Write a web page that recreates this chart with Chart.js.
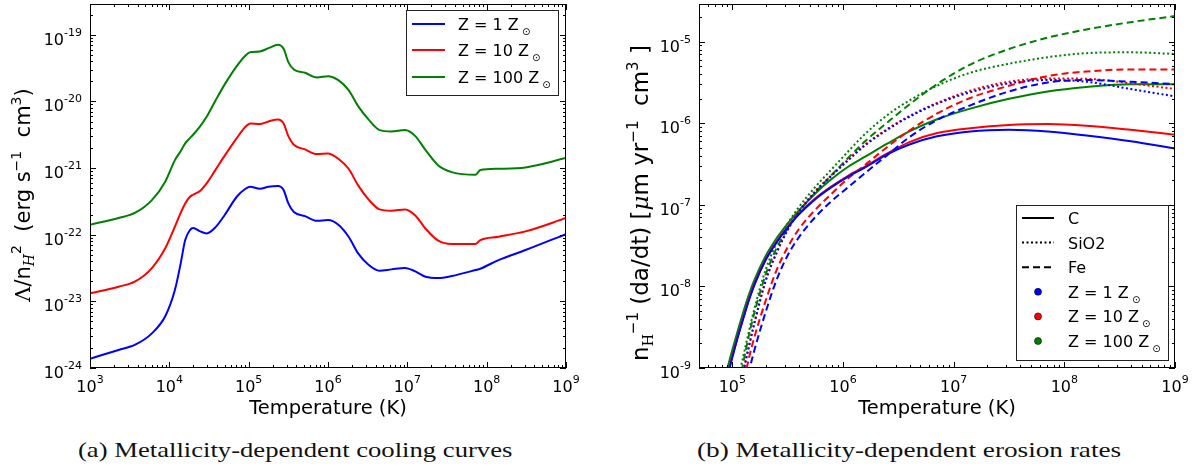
<!DOCTYPE html>
<html>
<head>
<meta charset="utf-8">
<script src="https://cdn.jsdelivr.net/npm/chart.js@4.4.1/dist/chart.umd.min.js"></script>
<style>
  html, body { margin: 0; padding: 0; background: #fff; }
  #wrap { position: relative; width: 1197px; height: 472px; overflow: hidden; }
  canvas { position: absolute; top: 0; }
  #cA { left: 0; }
  #cB { left: 600px; }
  .cap { position: absolute; top: 438px; font-family: "Liberation Serif", serif; font-size: 21px;
         white-space: nowrap; transform-origin: 0 0; color: #111; }
</style>
</head>
<body>
<div id="wrap">
  <canvas id="cA" width="600" height="420"></canvas>
  <canvas id="cB" width="597" height="420"></canvas>
  <div class="cap" id="capA" style="left:78px">(a) Metallicity-dependent cooling curves</div>
  <div class="cap" id="capB" style="left:697px">(b) Metallicity-dependent erosion rates</div>
</div>
<script>
// all values are log10

// (a) cooling curves
const coolLogT = [3.00, 3.36, 3.57, 3.78, 3.95, 4.07, 4.14, 4.20, 4.26, 4.30,
                  4.39, 4.47, 4.58, 4.70, 4.85, 4.96, 5.02, 5.14, 5.25, 5.37,
                  5.44, 5.50, 5.57, 5.71, 5.86, 6.00, 6.13, 6.26, 6.38, 6.51,
                  6.65, 6.80, 6.97, 7.10, 7.23, 7.39, 7.56, 7.86, 7.92, 8.15,
                  8.49, 9.00];
const coolZ1 = [-23.86, -23.73, -23.65, -23.48, -23.22, -22.83, -22.45, -22.08, -21.93, -21.90,
                -21.95, -21.98, -21.89, -21.70, -21.43, -21.31, -21.28, -21.31, -21.28, -21.27,
                -21.33, -21.53, -21.66, -21.72, -21.79, -21.78, -21.85, -22.03, -22.28, -22.45,
                -22.54, -22.52, -22.50, -22.55, -22.63, -22.65, -22.62, -22.53, -22.51, -22.38,
                -22.23, -21.99];
const coolZ10 = [-22.88, -22.78, -22.70, -22.50, -22.20, -21.88, -21.68, -21.53, -21.43, -21.40,
                 -21.34, -21.23, -21.03, -20.81, -20.55, -20.38, -20.33, -20.34, -20.30, -20.27,
                 -20.33, -20.52, -20.65, -20.72, -20.79, -20.78, -20.86, -21.01, -21.26, -21.47,
                 -21.62, -21.64, -21.62, -21.71, -21.91, -22.09, -22.14, -22.14, -22.08, -22.03,
                 -21.95, -21.75];
const coolZ100 = [-21.85, -21.75, -21.67, -21.48, -21.20, -20.88, -20.75, -20.63, -20.55, -20.50,
                  -20.37, -20.23, -19.99, -19.74, -19.47, -19.31, -19.26, -19.25, -19.20, -19.15,
                  -19.21, -19.41, -19.52, -19.57, -19.64, -19.62, -19.68, -19.83, -20.07, -20.27,
                  -20.43, -20.45, -20.43, -20.52, -20.73, -20.96, -21.06, -21.10, -21.03, -21.01,
                  -20.99, -20.85];

// (b) erosion rates
const eroLogT = [4.88, 4.95, 5.0, 5.05, 5.1, 5.15, 5.2, 5.3, 5.4, 5.5, 5.6, 5.75,
                 5.9, 6.05, 6.2, 6.4, 6.6, 6.85, 7.15, 7.5, 7.85, 8.2, 8.6, 9.0];
const cZ1 = [-9.51, -9.13, -8.87, -8.62, -8.39, -8.17, -7.98, -7.68, -7.46, -7.28, -7.12, -6.93,
             -6.78, -6.65, -6.54, -6.38, -6.26, -6.16, -6.10, -6.08, -6.10, -6.15, -6.22, -6.31];
const cZ10 = [-9.50, -9.12, -8.86, -8.61, -8.38, -8.16, -7.97, -7.67, -7.45, -7.27, -7.11, -6.92,
              -6.77, -6.64, -6.53, -6.37, -6.23, -6.12, -6.06, -6.02, -6.01, -6.03, -6.08, -6.14];
const cZ100 = [-9.40, -9.03, -8.78, -8.54, -8.31, -8.10, -7.92, -7.63, -7.41, -7.23, -7.07, -6.86,
               -6.68, -6.53, -6.41, -6.25, -6.10, -5.95, -5.82, -5.70, -5.61, -5.555, -5.52, -5.52];
const sioZ1 = [-10.5, -10.1, -9.76, -9.41, -9.05, -8.74, -8.45, -7.94, -7.59, -7.31, -7.09, -6.84,
               -6.64, -6.45, -6.27, -6.08, -5.92, -5.76, -5.62, -5.51, -5.47, -5.49, -5.58, -5.67];
const sioZ10 = [-10.5, -10.1, -9.75, -9.40, -9.04, -8.73, -8.44, -7.93, -7.58, -7.30, -7.08, -6.83,
                -6.63, -6.44, -6.26, -6.07, -5.91, -5.75, -5.60, -5.49, -5.45, -5.455, -5.51, -5.58];
const sioZ100 = [-10.2, -9.78, -9.47, -9.16, -8.85, -8.55, -8.27, -7.80, -7.47, -7.23, -7.03, -6.78,
                 -6.56, -6.34, -6.13, -5.90, -5.72, -5.54, -5.38, -5.27, -5.19, -5.14, -5.13, -5.15];
const feZ1 = [-11.2, -10.8, -10.4, -9.85, -9.42, -9.05, -8.78, -8.32, -7.92, -7.62, -7.40, -7.15,
              -6.95, -6.78, -6.61, -6.39, -6.17, -5.96, -5.78, -5.61, -5.50, -5.47, -5.49, -5.52];
const feZ10 = [-11.0, -10.5, -10.1, -9.6, -9.2, -8.88, -8.62, -8.18, -7.80, -7.52, -7.30, -7.06,
               -6.86, -6.67, -6.51, -6.29, -6.09, -5.88, -5.69, -5.54, -5.42, -5.365, -5.34, -5.34];
const feZ100 = [-10.5, -10.0, -9.65, -9.28, -8.93, -8.60, -8.32, -7.86, -7.53, -7.29, -7.09, -6.85,
                -6.63, -6.42, -6.22, -5.99, -5.77, -5.52, -5.28, -5.09, -4.95, -4.85, -4.76, -4.685];

const zLabels = ['1', '10', '100'];
const zColors = ['#0000ff', '#ff0000', '#008000'];
const grainNames = ['C', 'SiO2', 'Fe'];
const grainDash = [[], [2, 2.5], [7, 4]];

const SANS = '"DejaVu Sans", sans-serif';
const SERIF = '"DejaVu Serif", serif';

function pts(logT, logY) {
  return logT.map((t, i) => ({ x: Math.pow(10, t), y: Math.pow(10, logY[i]) }));
}

function setFont(ctx, p) {
  ctx.font = (p.style ? p.style + ' ' : '') + p.size + 'px ' + (p.family || SANS);
}
function richWidth(ctx, parts) {
  let w = 0;
  parts.forEach(p => { setFont(ctx, p); w += ctx.measureText(p.t).width; });
  return w;
}
function drawRich(ctx, parts, x, y, align) {
  let cx = x;
  const w = richWidth(ctx, parts);
  if (align === 'center') cx = x - w / 2;
  if (align === 'right') cx = x - w;
  ctx.textAlign = 'left';
  ctx.textBaseline = 'alphabetic';
  ctx.fillStyle = '#000';
  parts.forEach(p => {
    setFont(ctx, p);
    ctx.fillText(p.t, cx, y + (p.dy || 0));
    cx += ctx.measureText(p.t).width;
  });
}
function powParts(e) {
  return [{ t: '10', size: 16 }, { t: (e < 0 ? '-' : '') + Math.abs(e), size: 11, dy: -9 }];
}

// matplotlib-style frame, inward ticks on every side, 10^n labels, titles and legend
function axesPlugin(cfg) {
  return {
    id: 'axes_' + cfg.name,
    afterDraw(chart) {
      const ctx = chart.ctx;
      const a = chart.chartArea;
      const xs = chart.scales.x, ys = chart.scales.y;
      ctx.save();
      ctx.strokeStyle = '#000';
      ctx.lineWidth = 1;
      ctx.strokeRect(a.left + 0.5, a.top + 0.5, a.right - a.left - 1, a.bottom - a.top - 1);

      const logTicks = (min, max) => {
        const out = [];
        for (let d = Math.floor(Math.log10(min)); d <= Math.ceil(Math.log10(max)); d++) {
          for (let k = 1; k <= 9; k++) {
            const v = k * Math.pow(10, d);
            if (v >= min * 0.999 && v <= max * 1.001) out.push({ v, major: k === 1, e: d });
          }
        }
        return out;
      };
      ctx.beginPath();
      logTicks(xs.min, xs.max).forEach(t => {
        const px = Math.round(xs.getPixelForValue(t.v)) + 0.5;
        const L = t.major ? 6 : 3;
        ctx.moveTo(px, a.bottom); ctx.lineTo(px, a.bottom - L);
        ctx.moveTo(px, a.top); ctx.lineTo(px, a.top + L);
      });
      logTicks(ys.min, ys.max).forEach(t => {
        const py = Math.round(ys.getPixelForValue(t.v)) + 0.5;
        const L = t.major ? 6 : 3;
        ctx.moveTo(a.left, py); ctx.lineTo(a.left + L, py);
        ctx.moveTo(a.right, py); ctx.lineTo(a.right - L, py);
      });
      ctx.stroke();

      logTicks(xs.min, xs.max).filter(t => t.major).forEach(t => {
        drawRich(ctx, powParts(t.e), xs.getPixelForValue(t.v), a.bottom + 24, 'center');
      });
      logTicks(ys.min, ys.max).filter(t => t.major).forEach(t => {
        drawRich(ctx, powParts(t.e), a.left - 8, ys.getPixelForValue(t.v) + 10, 'right');
      });

      drawRich(ctx, [{ t: 'Temperature (K)', size: 19.5 }], (a.left + a.right) / 2, 414, 'center');

      ctx.save();
      ctx.translate(cfg.yTitleX, cfg.yTitleY);
      ctx.rotate(-Math.PI / 2);
      drawRich(ctx, cfg.yTitle, 0, 8, 'center');
      ctx.restore();

      const L = cfg.legend;
      ctx.strokeStyle = '#222';
      ctx.lineWidth = 1;
      ctx.fillStyle = '#fff';
      ctx.fillRect(L.x, L.y, L.w, L.h);
      ctx.strokeRect(L.x + 0.5, L.y + 0.5, L.w, L.h);
      L.items.forEach((it, i) => {
        const y = L.rows[i];
        if (it.dot) {
          ctx.beginPath();
          ctx.arc((L.x0 + L.x1) / 2, y, 3.5, 0, Math.PI * 2);
          ctx.fillStyle = it.color;
          ctx.fill();
          ctx.strokeStyle = '#000';
          ctx.lineWidth = 0.6;
          ctx.stroke();
        } else {
          ctx.beginPath();
          ctx.setLineDash(it.dash);
          ctx.strokeStyle = it.color;
          ctx.lineWidth = 2;
          ctx.moveTo(L.x0, y); ctx.lineTo(L.x1, y);
          ctx.stroke();
          ctx.setLineDash([]);
        }
        drawRich(ctx, it.text, L.tx, y + 6, 'left');
      });
      ctx.restore();
    }
  };
}

function zText(z) {
  return [{ t: 'Z = ' + z + ' Z', size: 16 }, { t: ' \u2299', size: 10, dy: 5 }];
}

const baseOptions = (padding, xmin, xmax, ymin, ymax) => ({
  responsive: false,
  animation: false,
  devicePixelRatio: 1,
  layout: { padding },
  elements: { point: { radius: 0 }, line: { borderWidth: 2, cubicInterpolationMode: 'monotone' } },
  scales: {
    x: { type: 'logarithmic', min: xmin, max: xmax, display: false },
    y: { type: 'logarithmic', min: ymin, max: ymax, display: false }
  },
  plugins: { legend: { display: false }, tooltip: { enabled: false } }
});

// ---- panel (a)
const coolSeries = [coolZ1, coolZ10, coolZ100];
new Chart(document.getElementById('cA'), {
  type: 'line',
  data: {
    datasets: coolSeries.map((s, i) => ({
      label: 'Z = ' + zLabels[i],
      data: pts(coolLogT, s),
      borderColor: zColors[i],
      fill: false,
      clip: 0
    }))
  },
  options: baseOptions({ left: 90, right: 34, top: 4, bottom: 52 }, 1e3, 1e9, 1e-24, 2.9e-19),
  plugins: [axesPlugin({
    name: 'a',
    yTitleX: 22, yTitleY: 195,
    yTitle: [
      { t: '\u039B', size: 21, family: SERIF },
      { t: '/n', size: 21 },
      { t: 'H', size: 14, style: 'italic', family: SERIF, dy: 4 },
      { t: '2', size: 14, dy: -9 },
      { t: '  (erg s', size: 21 },
      { t: '\u22121', size: 14, dy: -9 },
      { t: '  cm', size: 21 },
      { t: '3', size: 14, dy: -9 },
      { t: ')', size: 21 }
    ],
    legend: {
      x: 406, y: 10, w: 152, h: 85, x0: 412, x1: 445, tx: 458,
      rows: [24, 50, 77],
      items: zLabels.map((z, i) => ({ color: zColors[i], dash: [], text: zText(z) }))
    }
  })]
});

// ---- panel (b)
const eroSeries = [
  [cZ1, sioZ1, feZ1],
  [cZ10, sioZ10, feZ10],
  [cZ100, sioZ100, feZ100]
];
const eroSets = [];
eroSeries.forEach((grains, zi) => {
  grains.forEach((s, gi) => {
    eroSets.push({
      label: grainNames[gi] + ' Z = ' + zLabels[zi],
      data: pts(eroLogT, s),
      borderColor: zColors[zi],
      borderDash: grainDash[gi],
      fill: false,
      clip: 0
    });
  });
});
new Chart(document.getElementById('cB'), {
  type: 'line',
  data: { datasets: eroSets },
  options: baseOptions({ left: 99, right: 22, top: 4, bottom: 52 }, 5e4, 1e9, 1e-9, 2.9e-5),
  plugins: [axesPlugin({
    name: 'b',
    yTitleX: 40, yTitleY: 203,
    yTitle: [
      { t: 'n', size: 23 },
      { t: 'H', size: 14, family: SERIF, dy: 5 },
      { t: '\u22121', size: 15, dy: -10 },
      { t: ' (da/dt) [', size: 23 },
      { t: '\u03BC', size: 23, style: 'italic', family: SERIF },
      { t: 'm yr', size: 23 },
      { t: '\u22121', size: 15, dy: -10 },
      { t: '  cm', size: 23 },
      { t: '3', size: 15, dy: -10 },
      { t: ' ]', size: 23 }
    ],
    legend: {
      x: 416, y: 205, w: 152, h: 155, x0: 422, x1: 454, tx: 468,
      rows: [218, 242.6, 267.2, 291.8, 316.4, 341],
      items: grainNames.map((g, gi) => ({ color: '#000', dash: grainDash[gi], text: [{ t: g, size: 16 }] }))
        .concat(zLabels.map((z, i) => ({ color: zColors[i], dot: true, text: zText(z) })))
    }
  })]
});

// captions: stretch to the width they have in the figure
[['capA', 434], ['capB', 424]].forEach(([id, w]) => {
  const el = document.getElementById(id);
  el.style.transform = 'scaleX(' + (w / el.offsetWidth) + ')';
});
</script>
</body>
</html>
